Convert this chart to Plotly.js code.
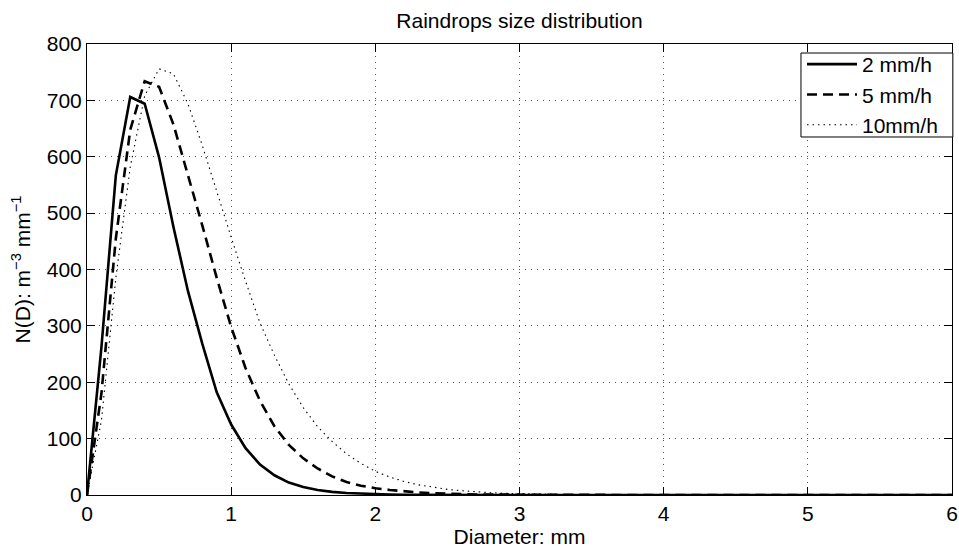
<!DOCTYPE html>
<html>
<head>
<meta charset="utf-8">
<script src="https://cdn.plot.ly/plotly-3.0.1.min.js"></script>
<style>
  html, body { margin: 0; padding: 0; background: #ffffff; }
  #chart { width: 959px; height: 549px; }
</style>
</head>
<body>
<div id="chart"></div>
<script>
// Diameter (mm)
const diameter = [
  0.0, 0.1, 0.2, 0.3, 0.4, 0.5, 0.6, 0.7, 0.8, 0.9,
  1.0, 1.1, 1.2, 1.3, 1.4, 1.5, 1.6, 1.7, 1.8, 1.9,
  2.0, 2.1, 2.2, 2.3, 2.4, 2.5, 2.6, 2.7, 2.8, 2.9,
  3.0, 3.1, 3.2, 3.3, 3.4, 3.5, 3.6, 3.7, 3.8, 3.9,
  4.0, 4.1, 4.2, 4.3, 4.4, 4.5, 4.6, 4.7, 4.8, 4.9,
  5.0, 5.1, 5.2, 5.3, 5.4, 5.5, 5.6, 5.7, 5.8, 5.9,
  6.0
];

// N(D) for R = 2 mm/h
const rain2 = [
  0, 262, 567, 706, 694, 599, 475, 362, 268, 182,
  125, 83, 54, 35, 22, 14, 9, 5.5, 3.5, 2.2,
  1.4, 0.9, 0.5, 0.3, 0.2, 0.1, 0.05, 0, 0, 0,
  0, 0, 0, 0, 0, 0, 0, 0, 0, 0,
  0, 0, 0, 0, 0, 0, 0, 0, 0, 0,
  0, 0, 0, 0, 0, 0, 0, 0, 0, 0,
  0
];

// N(D) for R = 5 mm/h
const rain5 = [
  0, 180, 455, 648, 734, 724, 657, 568, 478, 385,
  298, 225, 167, 122, 89, 65, 47, 33, 23, 16.5,
  12, 9, 6.5, 4.5, 3.2, 2.2, 1.5, 1, 0.7, 0.5,
  0.3, 0.2, 0.1, 0.05, 0, 0, 0, 0, 0, 0,
  0, 0, 0, 0, 0, 0, 0, 0, 0, 0,
  0, 0, 0, 0, 0, 0, 0, 0, 0, 0,
  0
];

// N(D) for R = 10 mm/h
const rain10 = [
  0, 132, 385, 582, 708, 756, 747, 694, 620, 538,
  457, 379, 305, 248, 197, 155, 121, 95, 73, 56,
  42, 32, 24, 18, 13.5, 10, 7.5, 5.5, 4.1, 3,
  2.2, 1.6, 1.2, 0.9, 0.6, 0.45, 0.3, 0.2, 0.15, 0.1,
  0.07, 0.05, 0.03, 0.02, 0.01, 0, 0, 0, 0, 0,
  0, 0, 0, 0, 0, 0, 0, 0, 0, 0,
  0
];

const seriesNames = ['2 mm/h', '5 mm/h', '10mm/h'];
const xTicks = [0, 1, 2, 3, 4, 5, 6];
const yTicks = [0, 100, 200, 300, 400, 500, 600, 700, 800];

const FONT = '"Liberation Sans", Arial, Helvetica, sans-serif';

const traces = [
  { x: diameter, y: rain2, name: seriesNames[0], mode: 'lines',
    line: { color: '#000000', width: 2.6, dash: 'solid' } },
  { x: diameter, y: rain5, name: seriesNames[1], mode: 'lines',
    line: { color: '#000000', width: 2.6, dash: '10px,6px' } },
  { x: diameter, y: rain10, name: seriesNames[2], mode: 'lines',
    line: { color: '#000000', width: 1.1, dash: '1.5px,4px' } }
];

const axisCommon = {
  showline: true, linecolor: '#000000', linewidth: 1, mirror: 'allticks',
  ticks: 'inside', ticklen: 8, tickwidth: 1, tickcolor: '#000000',
  showgrid: true, gridcolor: '#555555', gridwidth: 1, griddash: '1px,5px',
  zeroline: false, tickfont: { family: FONT, size: 21, color: '#000000' }
};

const layout = {
  width: 959, height: 549,
  margin: { l: 87, r: 7, t: 44, b: 54 },
  paper_bgcolor: '#ffffff', plot_bgcolor: '#ffffff',
  font: { family: FONT, size: 21, color: '#000000' },
  title: { text: 'Raindrops size distribution', font: { family: FONT, size: 21, color: '#000000' },
           x: 0.5, xref: 'paper', y: 0.963, yref: 'container', yanchor: 'middle' },
  xaxis: Object.assign({}, axisCommon, {
    range: [0, 6], tickvals: xTicks, ticktext: xTicks.map(String),
    title: { text: 'Diameter: mm', font: { family: FONT, size: 21, color: '#000000' }, standoff: 2 }
  }),
  yaxis: Object.assign({}, axisCommon, {
    range: [0, 800], tickvals: yTicks, ticktext: yTicks.map(String),
    title: { text: 'N(D): m<sup>\u22123</sup> mm<sup>\u22121</sup>', font: { family: FONT, size: 21, color: '#000000' }, standoff: 10 }
  }),
  shapes: [
    { type: 'rect', xref: 'paper', yref: 'paper', layer: 'above',
      x0: 0.8254, x1: 1.001, y0: 0.7938, y1: 0.980,
      line: { color: '#000000', width: 1 }, fillcolor: '#ffffff' }
  ],
  showlegend: true,
  legend: {
    x: 0.8266, xanchor: 'left', xref: 'paper',
    y: 1.0, yanchor: 'top', yref: 'paper',
    bgcolor: 'rgba(0,0,0,0)', borderwidth: 0,
    font: { family: FONT, size: 21, color: '#000000' },
    itemwidth: 50, tracegroupgap: 0
  }
};

Plotly.newPlot('chart', traces, layout, { staticPlot: true, displayModeBar: false });
</script>
</body>
</html>
